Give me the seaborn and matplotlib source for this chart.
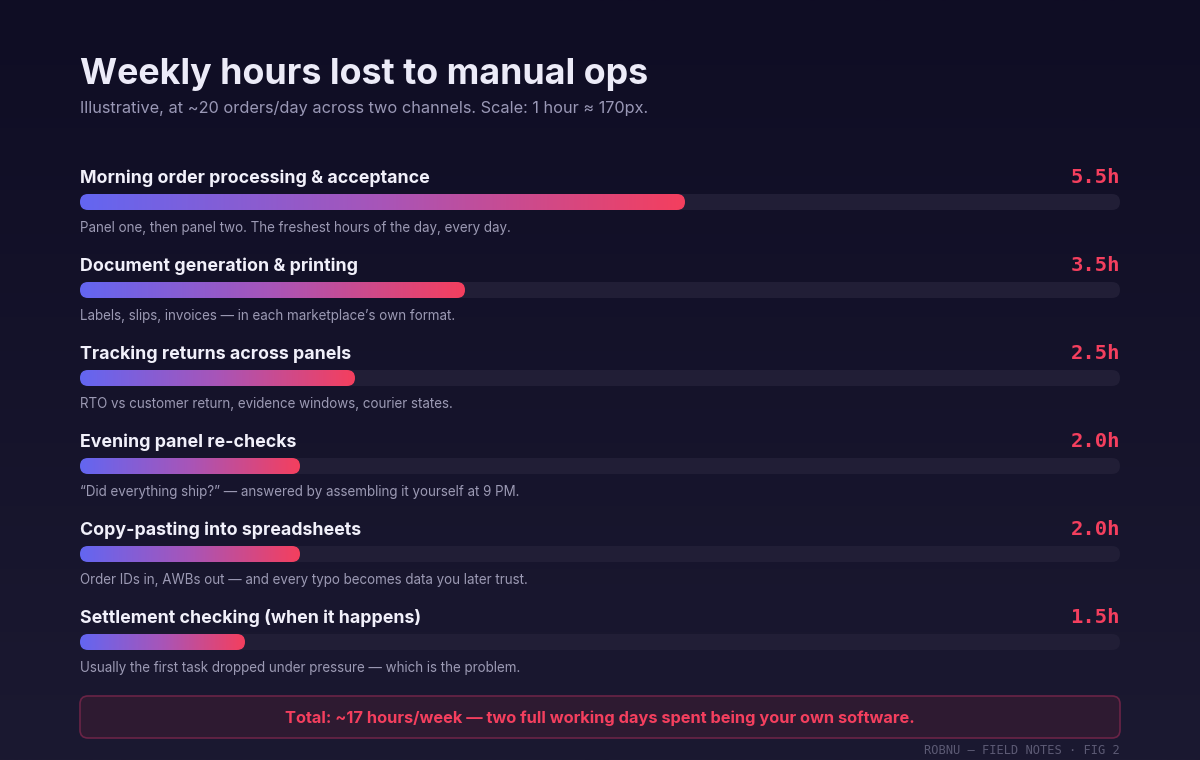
import numpy as np
import pandas as pd
import matplotlib
matplotlib.use("Agg")
import matplotlib.pyplot as plt
import seaborn as sns
from matplotlib.patches import FancyBboxPatch
from matplotlib.colors import LinearSegmentedColormap

# ---------------- data ----------------
tasks = [
    "Morning order processing & acceptance",
    "Document generation & printing",
    "Tracking returns across panels",
    "Evening panel re-checks",
    "Copy-pasting into spreadsheets",
    "Settlement checking (when it happens)",
]
hours = [5.5, 3.5, 2.5, 2.0, 2.0, 1.5]
notes = [
    "Panel one, then panel two. The freshest hours of the day, every day.",
    "Labels, slips, invoices \u2014 in each marketplace\u2019s own format.",
    "RTO vs customer return, evidence windows, courier states.",
    "\u201cDid everything ship?\u201d \u2014 answered by assembling it yourself at 9 PM.",
    "Order IDs in, AWBs out \u2014 and every typo becomes data you later trust.",
    "Usually the first task dropped under pressure \u2014 which is the problem.",
]
title = "Weekly hours lost to manual ops"
subtitle = "Illustrative, at ~20 orders/day across two channels. Scale: 1 hour \u2248 170px."
total_text = "Total: ~17 hours/week \u2014 two full working days spent being your own software."
footer = "ROBNU \u2014 FIELD NOTES \u00b7 FIG 2"

# ---------------- style ----------------
sns.set_theme(style="dark")
SANS = ["Inter", "DejaVu Sans"]
MONO = ["DejaVu Sans Mono"]
plt.rcParams["font.family"] = SANS

W, H = 1200, 760
BG_TOP, BG_BOT = "#0f0d24", "#1b1931"
TRACK = "#211e36"
C_LEFT, C_RIGHT = "#6366f1", "#f43f5e"
TITLE_C = "#ecebf8"
LABEL_C = "#f1f0fa"
NOTE_C = "#9c9ab4"
SUB_C = "#9a98b6"
PX = 0.72  # px -> pt at dpi 100

fig = plt.figure(figsize=(12, 7.6), dpi=100)

# background gradient
bg = fig.add_axes([0, 0, 1, 1], zorder=-10)
bg.imshow(np.linspace(0, 1, 256).reshape(-1, 1), aspect="auto",
          cmap=LinearSegmentedColormap.from_list("bg", [BG_TOP, BG_BOT]),
          extent=[0, W, H, 0])
bg.set_xlim(0, W)
bg.set_ylim(H, 0)
bg.axis("off")

# ---------------- bars ----------------
px_per_hour = 110.0
track_left, track_w = 80, 1040
track_hours = track_w / px_per_hour
row_px = 88.0
first_center = 202.0
bar_px = 16.0
n = len(tasks)
top_px = first_center - row_px / 2
bot_px = first_center + row_px * (n - 1) + row_px / 2

ax = fig.add_axes([track_left / W, 1 - bot_px / H, track_w / W, (bot_px - top_px) / H])
ax.set_facecolor("none")
df = pd.DataFrame({"task": tasks, "hours": hours})
sns.barplot(data=df, x="hours", y="task", orient="h", width=bar_px / row_px,
            color=C_LEFT, ax=ax)
ax.set_xlim(0, track_hours)
ax.set_ylim(n - 0.5, -0.5)
ax.axis("off")

aspect = px_per_hour / row_px
rad = (bar_px / 2) / px_per_hour
bar_cmap = LinearSegmentedColormap.from_list("bar", [C_LEFT, "#a855b8", C_RIGHT])
grad = np.linspace(0, 1, 256).reshape(1, -1)

for i, p in enumerate(list(ax.patches)):
    x0, y0 = p.get_x(), p.get_y()
    w, h = p.get_width(), p.get_height()
    p.set_visible(False)
    track = FancyBboxPatch((0, y0), track_hours, h,
                           boxstyle=f"round,pad=0,rounding_size={rad}",
                           mutation_aspect=aspect, facecolor=TRACK,
                           edgecolor="none", zorder=1)
    ax.add_patch(track)
    shape = FancyBboxPatch((x0, y0), w, h,
                           boxstyle=f"round,pad=0,rounding_size={rad}",
                           mutation_aspect=aspect, facecolor="none",
                           edgecolor="none", zorder=2)
    ax.add_patch(shape)
    im = ax.imshow(grad, cmap=bar_cmap, aspect="auto",
                   extent=(x0, x0 + w, y0 + h, y0), zorder=3,
                   interpolation="bilinear")
    im.set_clip_path(shape)

ax.set_xlim(0, track_hours)
ax.set_ylim(n - 0.5, -0.5)

for i, (t, hv, note) in enumerate(zip(tasks, hours, notes)):
    ax.text(0, i - 19 / row_px, t, ha="left", va="baseline",
            fontsize=17.8 * PX, fontweight="bold", color=LABEL_C)
    ax.text(track_hours, i - 19 / row_px, f"{hv:.1f}h", ha="right", va="baseline",
            family=MONO, fontsize=20.5 * PX, fontweight="bold", color=C_RIGHT)
    ax.text(0, i + 30 / row_px, note, ha="left", va="baseline",
            fontsize=13.4 * PX, color=NOTE_C)

# ---------------- header / footer ----------------
bg.text(80, 84, title, ha="left", va="baseline", fontsize=35.8 * PX,
        fontweight="bold", color=TITLE_C)
bg.text(80, 113, subtitle, ha="left", va="baseline", fontsize=16.3 * PX,
        color=SUB_C)

box = FancyBboxPatch((80, 696), 1040, 42, boxstyle="round,pad=0,rounding_size=8",
                     facecolor="#2e1a31", edgecolor="#6a2446", linewidth=1.2)
bg.add_patch(box)
bg.text(600, 718, total_text, ha="center", va="center", fontsize=16.4 * PX,
        fontweight="bold", color=C_RIGHT)
bg.text(1120, 754, footer, ha="right", va="baseline", family=MONO,
        fontsize=12 * PX, color="#5c5a74")

fig.savefig("out.png", dpi=100, facecolor=BG_TOP)
